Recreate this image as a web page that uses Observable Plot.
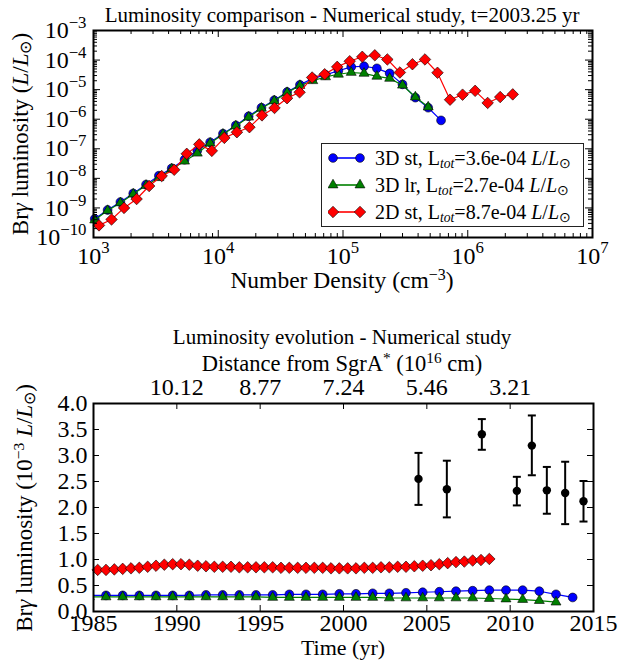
<!DOCTYPE html>
<html><head><meta charset="utf-8">
<script src="https://cdn.jsdelivr.net/npm/d3@7"></script>
<script src="https://cdn.jsdelivr.net/npm/@observablehq/plot@0.6"></script>
<style>
body{margin:0;background:#fff;}
#wrap{position:relative;width:621px;height:662px;font-family:"Liberation Serif",serif;color:#000;overflow:hidden;background:#fff;}
.panel{position:absolute;left:0;}
.panel text{font-family:"Liberation Serif",serif !important;}
.lbl{position:absolute;white-space:nowrap;transform:translate(-50%,-50%);line-height:1;}
.rot{transform:translate(-50%,-50%) rotate(-90deg);}
sup{font-size:0.68em;vertical-align:0.5em;line-height:0;}
sub{font-size:0.68em;vertical-align:-0.25em;line-height:0;}
#legend{position:absolute;left:321px;top:143px;width:263px;height:84px;border:1px solid #222;background:#fff;box-sizing:border-box;}
.row{position:absolute;left:0;height:24px;display:flex;align-items:center;}
.row svg{margin-left:6px;}
.row span{position:absolute;left:53px;font-size:20px;white-space:nowrap;}
</style></head><body><div id="wrap"></div>
<script>
// ---------- Top panel data: Br-gamma luminosity vs number density ----------
const density3D = [1023,1297,1643,2082,2638,3343,4236,5368,6792,8610,10910,13830,17520,22190,28120,35640,45160,57230,72440,91830,116400,147500,186900,236600,299900,380200,481900,610900];
const lum3Dst = [4.27e-10,8.51e-10,1.58e-9,3.09e-9,6.17e-9,1.23e-8,2.19e-8,4.27e-8,8.71e-8,1.66e-7,3.24e-7,6.17e-7,1.26e-6,2.45e-6,4.37e-6,8.32e-6,1.45e-5,2.40e-5,3.16e-5,4.37e-5,5.89e-5,6.17e-5,5.25e-5,3.55e-5,1.51e-5,5.37e-6,2.45e-6,9.12e-7];
const lum3Dlr = [3.89e-10,8.13e-10,1.48e-9,2.95e-9,5.75e-9,1.05e-8,2.09e-8,3.80e-8,7.08e-8,1.55e-7,3.09e-7,5.89e-7,1.17e-6,2.34e-6,4.17e-6,7.94e-6,1.38e-5,2.00e-5,2.69e-5,3.31e-5,3.80e-5,3.55e-5,2.82e-5,2.40e-5,1.41e-5,5.62e-6,2.57e-6];
const density2D = [1107,1395,1758,2216,2793,3520,4436,5591,7047,8881,11190,14110,17780,22410,28250,35600,44870,56560,71290,89840,113200,142700,179900,226700,285800,360200,453900,572100,721100,908800,1146000,1444000,1820000,2294000];
const lum2Dst = [2.57e-10,4.07e-10,1.00e-9,2.00e-9,5.50e-9,1.20e-8,1.95e-8,6.76e-8,1.41e-7,8.51e-8,2.34e-7,3.63e-7,5.37e-7,1.35e-6,2.40e-6,5.13e-6,8.13e-6,2.57e-5,3.31e-5,5.89e-5,9.12e-5,1.29e-4,1.45e-4,1.05e-4,3.80e-5,7.24e-5,1.05e-4,3.72e-5,4.57e-6,6.76e-6,9.12e-6,3.55e-6,5.62e-6,6.92e-6];
const seriesNames = ["3D st", "3D lr", "2D st"];
const seriesTotals = ["3.6e-04", "2.7e-04", "8.7e-04"];
const seriesColors = ["#0000ff", "#008000", "#ff0000"];

// ---------- Bottom panel data: luminosity evolution (10^-3 L/Lsun) ----------
const years3D = [1984.75,1985.75,1986.75,1987.75,1988.75,1989.75,1990.75,1991.75,1992.75,1993.75,1994.75,1995.75,1996.75,1997.75,1998.75,1999.75,2000.75,2001.75,2002.75,2003.75,2004.75,2005.75,2006.75,2007.75,2008.75,2009.75,2010.75,2011.75,2012.75,2013.75];
const evo3Dst = [0.31,0.31,0.31,0.31,0.31,0.31,0.31,0.32,0.32,0.32,0.32,0.32,0.33,0.33,0.33,0.34,0.34,0.35,0.35,0.36,0.37,0.38,0.39,0.40,0.41,0.41,0.41,0.39,0.33,0.27];
const evo3Dlr = [0.28,0.28,0.28,0.28,0.28,0.28,0.28,0.28,0.28,0.28,0.28,0.27,0.27,0.27,0.27,0.27,0.27,0.27,0.26,0.26,0.26,0.26,0.26,0.26,0.25,0.24,0.23,0.21,0.18];
const years2D = [1985.25,1985.75,1986.25,1986.75,1987.25,1987.75,1988.25,1988.75,1989.25,1989.75,1990.25,1990.75,1991.25,1991.75,1992.25,1992.75,1993.25,1993.75,1994.25,1994.75,1995.25,1995.75,1996.25,1996.75,1997.25,1997.75,1998.25,1998.75,1999.25,1999.75,2000.25,2000.75,2001.25,2001.75,2002.25,2002.75,2003.25,2003.75,2004.25,2004.75,2005.25,2005.75,2006.25,2006.75,2007.25,2007.75,2008.25,2008.75];
const evo2Dst = [0.80,0.80,0.81,0.82,0.83,0.84,0.86,0.88,0.90,0.91,0.91,0.90,0.88,0.87,0.86,0.86,0.86,0.85,0.85,0.85,0.85,0.85,0.84,0.84,0.84,0.84,0.84,0.84,0.83,0.83,0.83,0.83,0.84,0.84,0.85,0.85,0.86,0.86,0.87,0.88,0.89,0.91,0.93,0.95,0.96,0.98,0.99,1.01];
const obsYear = [2004.5,2006.2,2008.3,2010.4,2011.3,2012.2,2013.3,2014.4];
const obsLum  = [2.55,2.35,3.41,2.32,3.19,2.33,2.28,2.12];
const obsLow  = [2.05,1.81,3.11,2.04,2.62,1.88,1.68,1.73];
const obsHigh = [3.05,2.90,3.70,2.59,3.77,2.78,2.88,2.51];
const distYears = [1990,1995,2000,2005,2010];
const distLabels = ["10.12","8.77","7.24","5.46","3.21"];
const timeTicks = [1985,1990,1995,2000,2005,2010,2015];
const lumTicks = [0,0.5,1,1.5,2,2.5,3,3.5,4];

// ---------- helpers ----------
const S = "http://www.w3.org/2000/svg";
const FONT = "Liberation Serif";
function serifText(svg, fs) {
  svg.querySelectorAll("text").forEach(t => {
    t.style.fontFamily = "'Liberation Serif', serif";
    const m = /^10\^(.+)$/.exec(t.textContent);
    if (!m) return;
    t.textContent = "10";
    const ts = document.createElementNS(S, "tspan");
    ts.setAttribute("font-size", (fs * 0.7).toFixed(1));
    ts.setAttribute("dy", (-fs * 0.42).toFixed(1));
    ts.textContent = m[1];
    t.appendChild(ts);
  });
}
const pow = d => { const e = Math.round(Math.log10(d)); return "10^" + (e < 0 ? "\u2212" + (-e) : e); };
const capSymbol = {draw(ctx, size) { const w = Math.sqrt(size / Math.PI); ctx.moveTo(-w, 0); ctx.lineTo(w, 0); }};
const tickFont = 24;
const ax = {tickSize: 0, fontSize: tickFont, fontFamily: FONT, label: null, fill: "#000"};

// ---------- Top panel ----------
const t3Dst = density3D.map((d, i) => ({d, l: lum3Dst[i]}));
const t3Dlr = lum3Dlr.map((l, i) => ({d: density3D[i], l}));
const t2Dst = density2D.map((d, i) => ({d, l: lum2Dst[i]}));
const xMaj = [1e3, 1e4, 1e5, 1e6, 1e7];
const yMaj = [1e-10, 1e-9, 1e-8, 1e-7, 1e-6, 1e-5, 1e-4, 1e-3];
const xMin = xMaj.slice(0, -1).flatMap(b => [2,3,4,5,6,7,8,9].map(m => m * b));
const yMin = yMaj.slice(0, -1).flatMap(b => [2,3,4,5,6,7,8,9].map(m => m * b));
const T = {w: 621, h: 300, ml: 93, mr: 29, mt: 30, mb: 63};
const fwT = T.w - T.ml - T.mr, fhT = T.h - T.mt - T.mb;
const mk = {stroke: "#000", strokeWidth: 0.6};
const topChart = Plot.plot({
  width: T.w, height: T.h, marginLeft: T.ml, marginRight: T.mr, marginTop: T.mt, marginBottom: T.mb,
  x: {type: "log", domain: [1e3, 1e7]},
  y: {type: "log", domain: [1e-10, 1e-3]},
  style: {fontFamily: FONT, background: "transparent", color: "#000"},
  marks: [
    Plot.line(t3Dst, {x: "d", y: "l", stroke: seriesColors[0], strokeWidth: 1.2}),
    Plot.dot(t3Dst, {x: "d", y: "l", symbol: "circle", r: 4.4, fill: seriesColors[0], ...mk}),
    Plot.line(t3Dlr, {x: "d", y: "l", stroke: seriesColors[1], strokeWidth: 1.2}),
    Plot.dot(t3Dlr, {x: "d", y: "l", symbol: "triangle", r: 3.7, fill: seriesColors[1], ...mk}),
    Plot.line(t2Dst, {x: "d", y: "l", stroke: seriesColors[2], strokeWidth: 1.2}),
    Plot.dot(t2Dst, {x: "d", y: "l", symbol: "diamond2", r: 5.2, fill: seriesColors[2], ...mk}),
    Plot.tickX(xMaj, {x: d => d, insetTop: fhT - 7, stroke: "#000"}),
    Plot.tickX(xMaj, {x: d => d, insetBottom: fhT - 7, stroke: "#000"}),
    Plot.tickX(xMin, {x: d => d, insetTop: fhT - 4, stroke: "#000"}),
    Plot.tickX(xMin, {x: d => d, insetBottom: fhT - 4, stroke: "#000"}),
    Plot.tickY(yMaj, {y: d => d, insetRight: fwT - 7, stroke: "#000"}),
    Plot.tickY(yMaj, {y: d => d, insetLeft: fwT - 7, stroke: "#000"}),
    Plot.tickY(yMin, {y: d => d, insetRight: fwT - 4, stroke: "#000"}),
    Plot.tickY(yMin, {y: d => d, insetLeft: fwT - 4, stroke: "#000"}),
    Plot.axisX(xMaj, {anchor: "bottom", tickPadding: 9, tickFormat: pow, ...ax}),
    Plot.axisY(yMaj, {anchor: "left", tickPadding: 7, tickFormat: pow, ...ax}),
    Plot.frame({stroke: "#000", strokeWidth: 2})
  ]
});
serifText(topChart, tickFont);
topChart.classList.add("panel"); topChart.style.top = "0px";

// ---------- Bottom panel ----------
const e3Dst = years3D.map((t, i) => ({t, v: evo3Dst[i]}));
const e3Dlr = evo3Dlr.map((v, i) => ({t: years3D[i], v}));
const e2Dst = years2D.map((t, i) => ({t, v: evo2Dst[i]}));
const obs = obsYear.map((t, i) => ({t, v: obsLum[i], lo: obsLow[i], hi: obsHigh[i]}));
const B = {w: 621, h: 362, ml: 93, mr: 28, mt: 103, mb: 51};
const fwB = B.w - B.ml - B.mr, fhB = B.h - B.mt - B.mb;
const bottomChart = Plot.plot({
  width: B.w, height: B.h, marginLeft: B.ml, marginRight: B.mr, marginTop: B.mt, marginBottom: B.mb,
  x: {domain: [1985, 2015]},
  y: {domain: [0, 4]},
  style: {fontFamily: FONT, background: "transparent", color: "#000"},
  marks: [
    Plot.line(e3Dst, {x: "t", y: "v", stroke: seriesColors[0], strokeWidth: 1.2, clip: true}),
    Plot.dot(e3Dst, {x: "t", y: "v", symbol: "circle", r: 4.4, fill: seriesColors[0], ...mk, clip: true}),
    Plot.line(e3Dlr, {x: "t", y: "v", stroke: seriesColors[1], strokeWidth: 1.2, clip: true}),
    Plot.dot(e3Dlr, {x: "t", y: "v", symbol: "triangle", r: 3.7, fill: seriesColors[1], ...mk, clip: true}),
    Plot.line(e2Dst, {x: "t", y: "v", stroke: seriesColors[2], strokeWidth: 1.2}),
    Plot.dot(e2Dst, {x: "t", y: "v", symbol: "diamond2", r: 5.2, fill: seriesColors[2], ...mk}),
    Plot.ruleX(obs, {x: "t", y1: "lo", y2: "hi", stroke: "#000", strokeWidth: 2}),
    Plot.dot(obs, {x: "t", y: "lo", symbol: capSymbol, r: 4, stroke: "#000", strokeWidth: 2, fill: "none"}),
    Plot.dot(obs, {x: "t", y: "hi", symbol: capSymbol, r: 4, stroke: "#000", strokeWidth: 2, fill: "none"}),
    Plot.dot(obs, {x: "t", y: "v", r: 4.2, fill: "#000"}),
    Plot.tickX(timeTicks, {x: d => d, insetTop: fhB - 6, stroke: "#000"}),
    Plot.tickX(distYears, {x: d => d, insetBottom: fhB - 6, stroke: "#000"}),
    Plot.tickY(lumTicks, {y: d => d, insetRight: fwB - 6, stroke: "#000"}),
    Plot.tickY(lumTicks, {y: d => d, insetLeft: fwB - 6, stroke: "#000"}),
    Plot.axisX(timeTicks, {anchor: "bottom", tickPadding: 2, tickFormat: d => String(d), ...ax}),
    Plot.axisX(distYears, {anchor: "top", tickPadding: 9, tickFormat: d => distLabels[distYears.indexOf(d)], ...ax}),
    Plot.axisY(lumTicks, {anchor: "left", tickPadding: 6, tickFormat: d3.format(".1f"), ...ax}),
    Plot.frame({stroke: "#000", strokeWidth: 2})
  ]
});
serifText(bottomChart, tickFont);
bottomChart.classList.add("panel"); bottomChart.style.top = "300px";

// ---------- assemble ----------
const wrap = document.getElementById("wrap");
wrap.appendChild(topChart);
wrap.appendChild(bottomChart);
function label(html, x, y, size, rot) {
  const d = document.createElement("div");
  d.className = "lbl" + (rot ? " rot" : "");
  d.style.left = x + "px"; d.style.top = y + "px"; d.style.fontSize = size + "px";
  d.innerHTML = html;
  wrap.appendChild(d);
}
label("Luminosity comparison - Numerical study, t=2003.25 yr", 342, 15, 21);
label("Number Density (cm<sup>\u22123</sup>)", 342, 281, 23.5);
label("Br<i>\u03b3</i> luminosity (<i>L</i>/<i>L</i><sub>\u2299</sub>)", 20, 134, 23, true);
label("Luminosity evolution - Numerical study", 342, 337, 21);
label("Distance from SgrA<sup>*</sup> (10<sup>16</sup> cm)", 342, 364, 22.5);
label("Br<i>\u03b3</i> luminosity (10<sup>\u22123</sup> <i>L</i>/<i>L</i><sub>\u2299</sub>)", 24, 508, 23, true);
label("Time (yr)", 343, 648, 22);

// legend
const lg = document.createElement("div"); lg.id = "legend"; wrap.appendChild(lg);
seriesNames.forEach((name, i) => {
  const row = document.createElement("div"); row.className = "row";
  row.style.top = (2 + i * 27) + "px";
  const svg = document.createElementNS(S, "svg");
  svg.setAttribute("width", 40); svg.setAttribute("height", 24);
  const ln = document.createElementNS(S, "line");
  ln.setAttribute("x1", 5); ln.setAttribute("x2", 32); ln.setAttribute("y1", 12); ln.setAttribute("y2", 12);
  ln.setAttribute("stroke", seriesColors[i]); ln.setAttribute("stroke-width", 1.6);
  svg.appendChild(ln);
  [5, 32].forEach(cx => {
    const p = document.createElementNS(S, "path");
    const sz = [60, 43, 85][i];
    const sym = [d3.symbolCircle, d3.symbolTriangle, d3.symbolDiamond2][i];
    p.setAttribute("d", d3.symbol(sym, sz)());
    p.setAttribute("transform", `translate(${cx},12)`);
    p.setAttribute("fill", seriesColors[i]); p.setAttribute("stroke", "#000"); p.setAttribute("stroke-width", 0.6);
    svg.appendChild(p);
  });
  row.appendChild(svg);
  const sp = document.createElement("span");
  sp.innerHTML = `${name}, L<sub><i>tot</i></sub>=${seriesTotals[i]} <i>L</i>/<i>L</i><sub>\u2299</sub>`;
  row.appendChild(sp);
  lg.appendChild(row);
});
</script></body></html>
